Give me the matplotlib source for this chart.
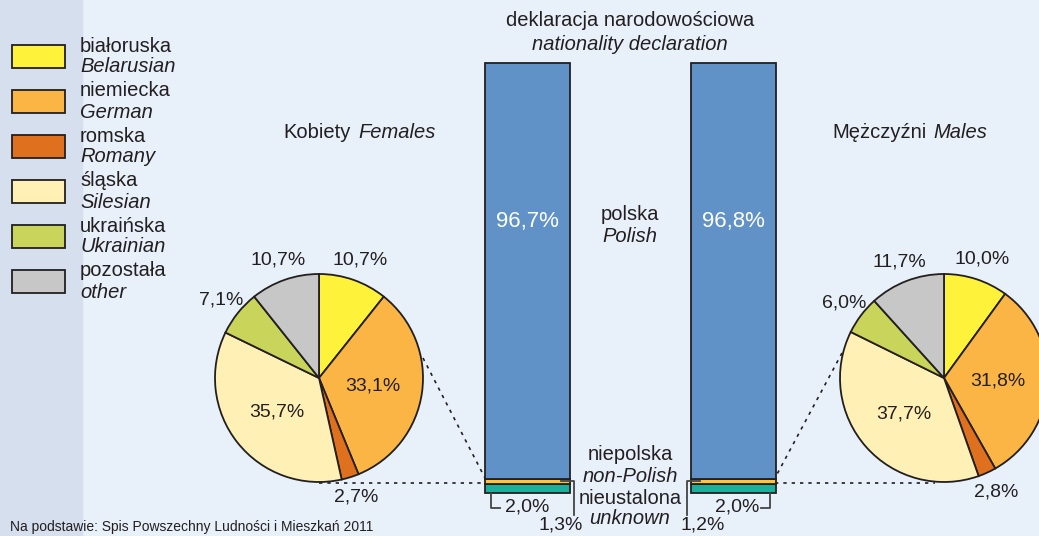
import numpy as np
import matplotlib.pyplot as plt
from matplotlib.patches import Rectangle

# --- data ---
categories_pl = ['białoruska', 'niemiecka', 'romska', 'śląska', 'ukraińska', 'pozostała']
categories_en = ['Belarusian', 'German', 'Romany', 'Silesian', 'Ukrainian', 'other']
females_nonpolish = [10.7, 33.1, 2.7, 35.7, 7.1, 10.7]
males_nonpolish = [10.0, 31.8, 2.8, 37.7, 6.0, 11.7]

# declaration shares: polish, non-polish, unknown
females_decl = [96.7, 1.3, 2.0]
males_decl = [96.8, 1.2, 2.0]

pie_colors = ['#fff23a', '#fbb545', '#df701e', '#fff0b5', '#c9d45a', '#c7c7c7']
decl_colors = ['#6092c8', '#fdc43c', '#1caf9c']
txt = '#231f20'
bg = '#e8f0fa'
side = '#d5dfed'

W, H = 1039, 536
plt.rcParams['font.family'] = ['Liberation Sans', 'DejaVu Sans']


def pct(v):
    return f'{v:.1f}%'.replace('.', ',')


fig = plt.figure(figsize=(W / 100, H / 100), dpi=100, facecolor=bg)
ax = fig.add_axes([0, 0, 1, 1])
ax.set_facecolor(bg)

# sidebar
ax.add_patch(Rectangle((0, 0), 82, H, color=side, zorder=0))

# legend
for i, (pl, en) in enumerate(zip(categories_pl, categories_en)):
    top = 45 + i * 45
    ax.add_patch(Rectangle((12, top), 53, 23, facecolor=pie_colors[i],
                           edgecolor=txt, lw=1.3, zorder=2))
    ax.text(80, top + 1, pl, fontsize=14.5, color=txt, va='center')
    ax.text(80, top + 22, en, fontsize=14.5, color=txt, va='center', style='italic')

# stacked bars (pixel scale: 430 px = 100 %)
base, scale, bw = 493, 4.3, 85
bar_x = [527.5, 733.5]
for bx, decl in zip(bar_x, [females_decl, males_decl]):
    bottom = base
    for v, c in zip([decl[2], decl[1], decl[0]], [decl_colors[2], decl_colors[1], decl_colors[0]]):
        ax.bar(bx, -v * scale, bottom=bottom, width=bw, color=c,
               edgecolor=txt, lw=1.3, zorder=3)
        bottom -= v * scale
    ax.text(bx, 222, pct(decl[0]), fontsize=16,
            color='white', ha='center', va='center', zorder=4)

# pies
pie_specs = [(319, 378, females_nonpolish), (944, 378, males_nonpolish)]
for cx, cy, vals in pie_specs:
    # y axis is inverted, so -90 is the visual top and ccw is visual clockwise
    wedges, _ = ax.pie(vals, colors=pie_colors, center=(cx, cy), radius=104,
                       startangle=-90, counterclock=True,
                       wedgeprops=dict(edgecolor=txt, lw=1.3))
    for w, v in zip(wedges, vals):
        w.set_zorder(3)
        th = np.deg2rad((w.theta1 + w.theta2) / 2)
        d = 0.52 if v > 30 else 1.2
        ax.text(cx + d * 104 * np.cos(th), cy + d * 104 * np.sin(th),
                pct(v), fontsize=14, color=txt,
                ha='center', va='center', zorder=5)

ax.set_xlim(0, W)
ax.set_ylim(H, 0)
ax.axis('off')

# dotted connectors
dot = dict(color=txt, lw=1.2, ls=(0, (2, 3)), zorder=2)
ax.plot([423, 485], [358, 478], **dot)
ax.plot([319, 485], [483, 483], **dot)
ax.plot([842, 775], [353, 478], **dot)
ax.plot([775, 935], [483, 483], **dot)

# leader lines
lead = dict(color='#444444', lw=1.3, zorder=5)
ax.plot([561, 574, 574], [481, 481, 515], **lead)
ax.plot([700, 687, 687], [481, 481, 515], **lead)
ax.plot([491, 491, 500], [493, 508, 508], **lead)
ax.plot([770, 770, 761], [493, 508, 508], **lead)

ax.text(527, 507, pct(females_decl[2]), fontsize=14, color=txt, ha='center', va='center')
ax.text(737, 507, pct(males_decl[2]), fontsize=14, color=txt, ha='center', va='center')
ax.text(561, 525, pct(females_decl[1]), fontsize=14, color=txt, ha='center', va='center')
ax.text(703, 525, pct(males_decl[1]), fontsize=14, color=txt, ha='center', va='center')

# centre texts
mid = 630
ax.text(mid, 21, 'deklaracja narodowościowa', fontsize=14.5, color=txt, ha='center', va='center')
ax.text(mid, 45, 'nationality declaration', fontsize=14.5, color=txt, ha='center', va='center', style='italic')
ax.text(mid, 214, 'polska', fontsize=14.5, color=txt, ha='center', va='center')
ax.text(mid, 237, 'Polish', fontsize=14.5, color=txt, ha='center', va='center', style='italic')
ax.text(mid, 455, 'niepolska', fontsize=14.5, color=txt, ha='center', va='center')
ax.text(mid, 476, 'non-Polish', fontsize=14.5, color=txt, ha='center', va='center', style='italic')
ax.text(mid, 498, 'nieustalona', fontsize=14.5, color=txt, ha='center', va='center')
ax.text(mid, 518, 'unknown', fontsize=14.5, color=txt, ha='center', va='center', style='italic')

# pie titles
ax.text(351, 132, 'Kobiety', fontsize=14.5, color=txt, ha='right', va='center')
ax.text(358, 132, 'Females', fontsize=14.5, color=txt, ha='left', va='center', style='italic')
ax.text(927, 132, 'Mężczyźni', fontsize=14.5, color=txt, ha='right', va='center')
ax.text(933, 132, 'Males', fontsize=14.5, color=txt, ha='left', va='center', style='italic')

# footnote
ax.text(10, 534, 'Na podstawie: Spis Powszechny Ludności i Mieszkań 2011', fontsize=10,
        color=txt, ha='left', va='bottom')

fig.savefig('out.png', dpi=100, facecolor=bg)
